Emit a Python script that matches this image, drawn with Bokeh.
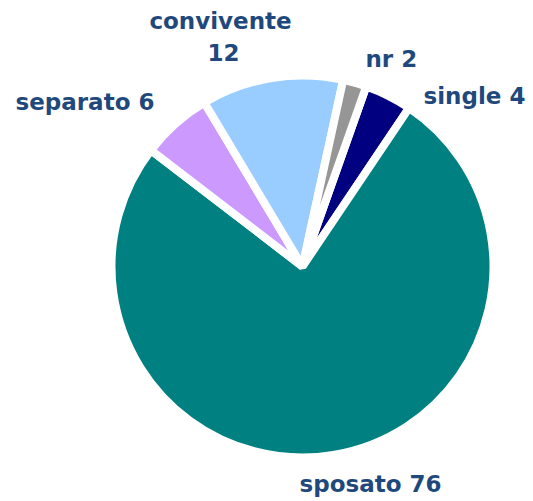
import math
from bokeh.plotting import figure
from bokeh.models import Range1d, ColumnDataSource
from bokeh.core.properties import value
from bokeh.embed import file_html
from bokeh.resources import INLINE

# data (clockwise order, starting with "single")
categories = ["single", "sposato", "separato", "convivente", "nr"]
values = [4, 76, 6, 12, 2]
colors = ["#000080", "#008080", "#CC99FF", "#99CCFF", "#969696"]

# label layout (picture pixels): anchor x / baseline y, alignment
label_texts = ["single 4", "sposato 76", "separato 6", "convivente\n12", "nr 2"]
label_x = [423, 299, 15, 220, 365]
label_y = [95, 483, 101, 20, 58]
label_align = ["left", "left", "left", "center", "left"]

W, H = 533, 501

def py(y_pic):
    return H - y_pic

cx, cy = 302, py(266)
R = 191
first_angle = 19.5  # degrees clockwise from 12 o'clock

total = sum(values)
starts, ends = [], []
acc = first_angle
for v in values:
    a0 = acc
    a1 = acc + 360.0 * v / total
    # convert clockwise-from-top to bokeh's counterclockwise-from-x
    starts.append(math.radians(90 - a1))
    ends.append(math.radians(90 - a0))
    acc = a1

p = figure(width=W, height=H, output_backend="svg", toolbar_location=None,
           x_range=Range1d(0, W), y_range=Range1d(0, H),
           x_axis_location=None, y_axis_location=None, min_border=0,
           background_fill_color="white", border_fill_color="white")
p.grid.visible = False
p.outline_line_color = None

src = ColumnDataSource(dict(cat=categories, val=values, color=colors,
                            start=starts, end=ends))
p.wedge(x=cx, y=cy, radius=R, start_angle="start", end_angle="end",
        fill_color="color", line_color="white", line_width=8, source=src)

# labels (multi-line handled by splitting)
lx, ly, lt, la = [], [], [], []
for t, x, y, a in zip(label_texts, label_x, label_y, label_align):
    for i, line in enumerate(t.split("\n")):
        lx.append(x + (3 if i > 0 else 0))
        ly.append(py(y + 32 * i))
        lt.append(line)
        la.append(a)

lsrc = ColumnDataSource(dict(x=lx, y=ly, text=lt, align=la))
p.text(x="x", y="y", text="text", source=lsrc, text_align="align",
       text_baseline="alphabetic", text_font=value("DejaVu Sans"),
       text_font_style="bold", text_font_size="23px", text_color="#1F497D")

open("out.html", "w").write(file_html(p, INLINE))
